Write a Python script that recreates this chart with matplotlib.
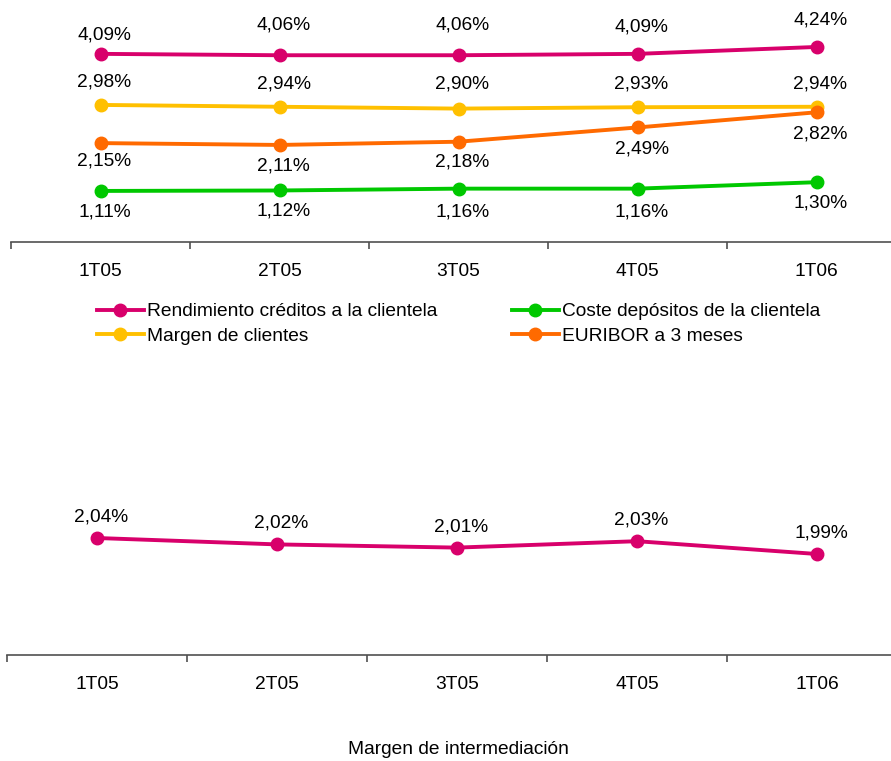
import matplotlib
matplotlib.use('Agg')
import matplotlib.pyplot as plt
from matplotlib.lines import Line2D

plt.rcParams['font.family'] = ['Liberation Sans', 'DejaVu Sans']

quarters = ['1T05', '2T05', '3T05', '4T05', '1T06']

rend_creditos = [4.09, 4.06, 4.06, 4.09, 4.24]
margen_clientes = [2.98, 2.94, 2.90, 2.93, 2.94]
euribor_3m = [2.15, 2.11, 2.18, 2.49, 2.82]
coste_depositos = [1.11, 1.12, 1.16, 1.16, 1.30]

margen_intermediacion = [2.04, 2.02, 2.01, 2.03, 1.99]

PINK = '#D8006B'
YELLOW = '#FFC000'
ORANGE = '#FF6A00'
GREEN = '#00C800'
FS = 13.8
LW = 2.8
W, H = 891, 761

fig = plt.figure(figsize=(W / 100, H / 100), dpi=100)


def px_axes(x0, y_top, x1, y_bot):
    return fig.add_axes([x0 / W, 1 - y_bot / H, (x1 - x0) / W, (y_bot - y_top) / H])


def style_axis(ax):
    for s in ['top', 'right', 'left']:
        ax.spines[s].set_visible(False)
    ax.spines['bottom'].set_color('#505050')
    ax.spines['bottom'].set_linewidth(1.2)
    ax.set_yticks([])
    ax.set_xlim(-0.5, 4.5)
    ax.set_xticks(range(len(quarters)))
    ax.set_xticklabels(quarters, fontsize=FS)
    ax.tick_params(axis='x', which='major', length=0, pad=15)
    ax.set_xticks([i - 0.5 for i in range(len(quarters) + 1)], minor=True)
    ax.tick_params(axis='x', which='minor', length=5, width=1.2, color='#505050', direction='out')
    ax.patch.set_alpha(0)


def pct(v):
    return f'{v:.2f}%'.replace('.', ',')


# top chart
ax1 = px_axes(11, 5, 11 + 5 * 179, 242)
ax1.set_ylim(0, 237 / 46)
style_axis(ax1)

series = [
    (rend_creditos, PINK, 'Rendimiento créditos a la clientela', [19, 30, 30, 27, 27]),
    (margen_clientes, YELLOW, 'Margen de clientes', [23, 23, 25, 23, 23]),
    (euribor_3m, ORANGE, 'EURIBOR a 3 meses', [-18, -21, -20, -22, -22]),
    (coste_depositos, GREEN, 'Coste depósitos de la clientela', [-21, -21, -23, -23, -21]),
]
x = range(len(quarters))
for vals, col, name, offs in series:
    ax1.plot(x, vals, color=col, lw=LW, marker='o', ms=9, clip_on=False, solid_capstyle='round')
    for i, v in enumerate(vals):
        ax1.annotate(pct(v), (i, v), xytext=(4, offs[i]), textcoords='offset pixels',
                     ha='center', va='center', fontsize=FS)

handles = [Line2D([], [], color=c, lw=LW, marker='o', ms=9) for _, c, _, _ in series]
labels = [n for _, _, n, _ in series]
order = [0, 1, 3, 2]
fig.legend([handles[i] for i in order], [labels[i] for i in order], ncol=2,
           loc='upper left', bbox_to_anchor=(97 / W, 1 - 303 / H), frameon=False,
           fontsize=FS, handlelength=2.45, handletextpad=0.15, columnspacing=3.9,
           labelspacing=0.35, borderpad=0, borderaxespad=0)

# bottom chart
ax2 = px_axes(7, 420, 7 + 5 * 180, 655)
ax2.set_ylim(2.04 - 117 / 320, 2.04 + 118 / 320)
style_axis(ax2)
ax2.plot(x, margen_intermediacion, color=PINK, lw=LW, marker='o', ms=9, clip_on=False)
for i, v in enumerate(margen_intermediacion):
    ax2.annotate(pct(v), (i, v), xytext=(4, 21), textcoords='offset pixels',
                 ha='center', va='center', fontsize=FS)

fig.text(458 / W, 1 - 749 / H, 'Margen de intermediación', ha='center', va='center', fontsize=FS)

fig.savefig('out.png', dpi=100)
